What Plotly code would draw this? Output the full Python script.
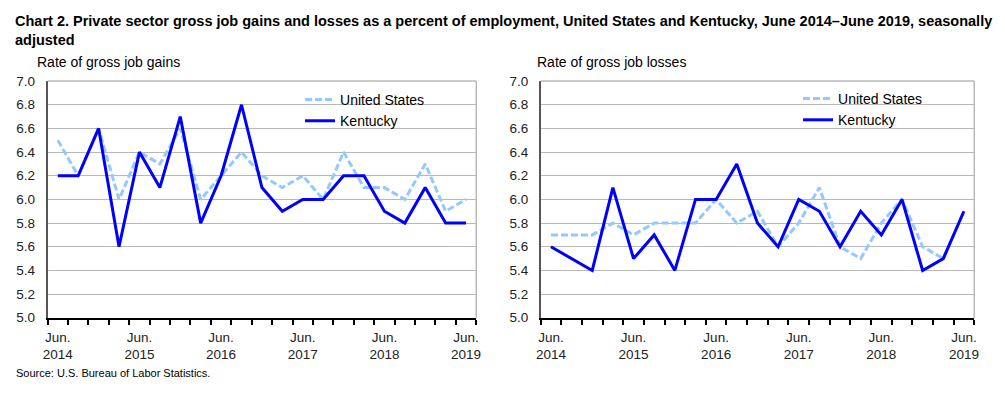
import plotly.graph_objects as go

W, H = 1005, 396

quarters = list(range(21))  # Jun 2014 .. Jun 2019, quarterly
tick_positions = [0, 4, 8, 12, 16, 20]
tick_labels = ["Jun.<br>2014", "Jun.<br>2015", "Jun.<br>2016", "Jun.<br>2017", "Jun.<br>2018", "Jun.<br>2019"]

gains_us = [6.5, 6.2, 6.6, 6.0, 6.4, 6.3, 6.6, 6.0, 6.2, 6.4, 6.2, 6.1, 6.2, 6.0, 6.4, 6.1, 6.1, 6.0, 6.3, 5.9, 6.0]
gains_ky = [6.2, 6.2, 6.6, 5.6, 6.4, 6.1, 6.7, 5.8, 6.2, 6.8, 6.1, 5.9, 6.0, 6.0, 6.2, 6.2, 5.9, 5.8, 6.1, 5.8, 5.8]
losses_us = [5.7, 5.7, 5.7, 5.8, 5.7, 5.8, 5.8, 5.8, 6.0, 5.8, 5.9, 5.6, 5.8, 6.1, 5.6, 5.5, 5.8, 6.0, 5.6, 5.5, 5.9]
losses_ky = [5.6, 5.5, 5.4, 6.1, 5.5, 5.7, 5.4, 6.0, 6.0, 6.3, 5.8, 5.6, 6.0, 5.9, 5.6, 5.9, 5.7, 6.0, 5.4, 5.5, 5.9]

US_COLOR = "#94c9ff"
KY_COLOR = "#0000ff"
FONT = "Liberation Sans, Arial, sans-serif"

def px_x(p):
    return p / W

def px_y(p):
    return 1 - p / H

fig = go.Figure()

for xa, ya, us, ky, lg in [("x", "y", gains_us, gains_ky, "legend"),
                           ("x2", "y2", losses_us, losses_ky, "legend2")]:
    fig.add_trace(go.Scatter(x=quarters, y=us, mode="lines", name="United States",
                             line=dict(color=US_COLOR, width=3, dash="7px,3px"),
                             xaxis=xa, yaxis=ya, legend=lg))
    fig.add_trace(go.Scatter(x=quarters, y=ky, mode="lines", name="Kentucky",
                             line=dict(color=KY_COLOR, width=3),
                             xaxis=xa, yaxis=ya, legend=lg))

xaxis_common = dict(
    range=[-0.5, 20.5], tickvals=tick_positions, ticktext=tick_labels,
    ticks="outside", ticklen=6, tickcolor="rgba(0,0,0,0)",
    minor=dict(tick0=-0.5, dtick=1, ticks="outside", ticklen=5, tickcolor="#000", tickwidth=1.5),
    showline=True, linecolor="#000", linewidth=1.5, showgrid=False, zeroline=False,
    tickfont=dict(family=FONT, size=13.5, color="#222"),
)
yaxis_common = dict(
    range=[5.0, 7.0], dtick=0.2, tick0=5.0, tickformat=".1f",
    showline=True, linecolor="#555", linewidth=1.5,
    showgrid=True, gridcolor="#b8b8b8", gridwidth=1.2, zeroline=False,
    ticks="", ticklabelstandoff=8,
    tickfont=dict(family=FONT, size=13.5, color="#222"),
)

ydom = [px_y(323), px_y(77)]
fig.update_layout(
    width=W, height=H,
    margin=dict(l=0, r=0, t=0, b=0),
    paper_bgcolor="white", plot_bgcolor="white",
    font=dict(family=FONT, color="#000"),
    xaxis=dict(domain=[px_x(43), px_x(476)], anchor="y", **xaxis_common),
    yaxis=dict(domain=ydom, anchor="x", **yaxis_common),
    xaxis2=dict(domain=[px_x(541), px_x(979)], anchor="y2", **xaxis_common),
    yaxis2=dict(domain=ydom, anchor="x2", **yaxis_common),
    legend=dict(x=px_x(298), y=px_y(80), xanchor="left", yanchor="top",
                bgcolor="rgba(0,0,0,0)", font=dict(family=FONT, size=14, color="#000"),
                tracegroupgap=0, itemwidth=30),
    legend2=dict(x=px_x(801), y=px_y(79), xanchor="left", yanchor="top",
                 bgcolor="rgba(0,0,0,0)", font=dict(family=FONT, size=14, color="#000"),
                 tracegroupgap=0, itemwidth=30),
    showlegend=True,
)

# light gray frame on the top and right of each plot area
for xr, yr in [("x domain", "y domain"), ("x2 domain", "y2 domain")]:
    fig.add_shape(type="line", xref=xr, yref=yr, x0=1, x1=1, y0=0, y1=1,
                  line=dict(color="#b8b8b8", width=1.5))
    fig.add_shape(type="line", xref=xr, yref=yr, x0=0, x1=1, y0=1, y1=1,
                  line=dict(color="#b8b8b8", width=1.5))

fig.add_annotation(
    text="<b>Chart 2. Private sector gross job gains and losses as a percent of employment, United States and Kentucky, June 2014\u2013June 2019, seasonally<br>adjusted</b>",
    xref="paper", yref="paper", x=px_x(8), y=px_y(4), xanchor="left", yanchor="top",
    align="left", showarrow=False, font=dict(family=FONT, size=14.5, color="#000"))
fig.add_annotation(text="Rate of gross job gains", xref="paper", yref="paper",
                   x=px_x(30), y=px_y(57), xanchor="left", yanchor="middle",
                   showarrow=False, font=dict(family=FONT, size=14, color="#000"))
fig.add_annotation(text="Rate of gross job losses", xref="paper", yref="paper",
                   x=px_x(535), y=px_y(57), xanchor="left", yanchor="middle",
                   showarrow=False, font=dict(family=FONT, size=14, color="#000"))
fig.add_annotation(text="Source: U.S. Bureau of Labor Statistics.", xref="paper", yref="paper",
                   x=px_x(9), y=px_y(380), xanchor="left", yanchor="middle",
                   showarrow=False, font=dict(family=FONT, size=11, color="#000"))

fig.write_html("out.html",
               config={"displayModeBar": False},
               post_script="document.body.style.margin='0';document.body.style.overflow='hidden';")
